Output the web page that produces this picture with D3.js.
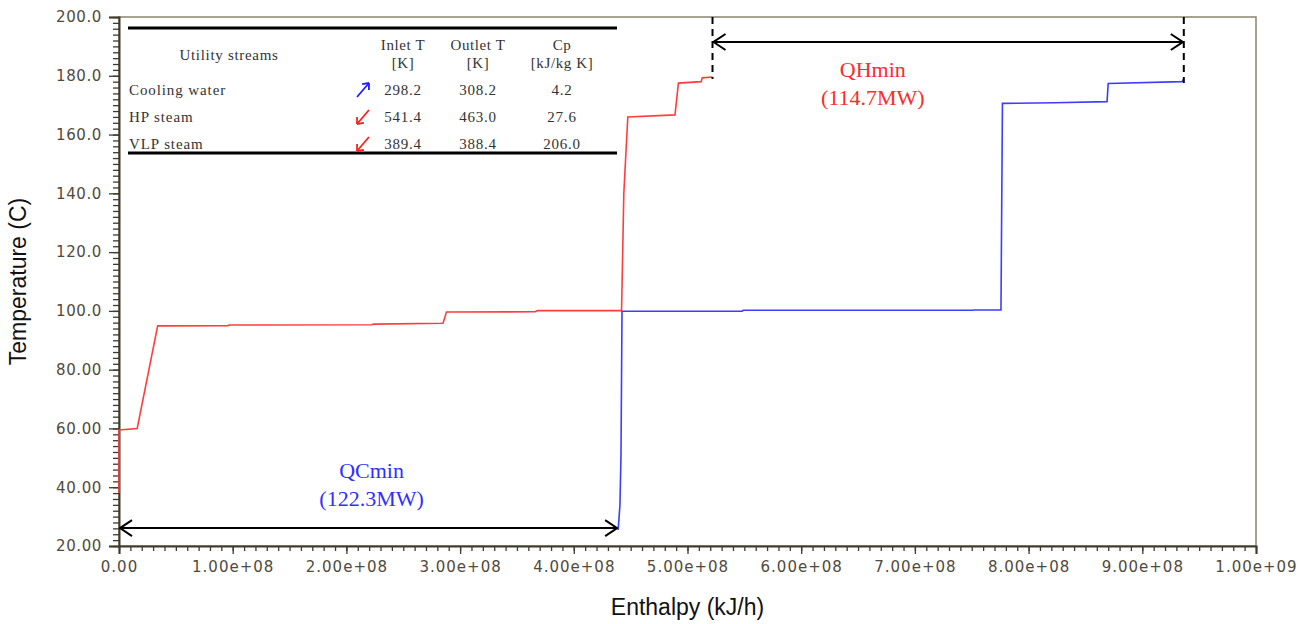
<!DOCTYPE html>
<html>
<head>
<meta charset="utf-8">
<script src="https://cdn.jsdelivr.net/npm/d3@7"></script>
<style>
  html, body { margin: 0; padding: 0; background: #fff; }
  svg { display: block; }
</style>
</head>
<body>
<svg id="chart"></svg>
<script>
// hot composite curve (enthalpy kJ/h, temperature C)
const hotH = [0, 0, 0.16e8, 0.34e8, 0.96e8, 0.97e8, 2.22e8, 2.24e8, 2.85e8, 2.88e8, 3.66e8, 3.68e8,
  4.42e8, 4.44e8, 4.475e8, 4.89e8, 4.92e8, 5.12e8, 5.13e8, 5.22e8];
const hotT = [38, 59.5, 60, 94.9, 95.0, 95.2, 95.3, 95.5, 95.8, 99.6, 99.7, 100.1,
  100.1, 140, 166.0, 166.7, 177.5, 178.0, 179.3, 179.6];

// cold composite curve
const coldH = [4.39e8, 4.406e8, 4.415e8, 4.424e8, 5.48e8, 5.49e8, 7.51e8, 7.52e8, 7.757e8, 7.77e8,
  8.23e8, 8.69e8, 8.70e8, 9.35e8, 9.365e8];
const coldT = [25.5, 34, 51, 99.9, 99.9, 100.2, 100.2, 100.3, 100.3, 170.6,
  170.8, 171.2, 177.4, 178.0, 178.9];

const xTicks = [0, 1e8, 2e8, 3e8, 4e8, 5e8, 6e8, 7e8, 8e8, 9e8, 1e9];
const yTicks = [20, 40, 60, 80, 100, 120, 140, 160, 180, 200];

// utility table
const tableHeader = ["Utility  streams", "Inlet T", "Outlet T", "Cp"];
const tableUnits = ["", "[K]", "[K]", "[kJ/kg K]"];
const utilityNames = ["Cooling  water", "HP steam", "VLP steam"];
const utilityInlet = ["298.2", "541.4", "389.4"];
const utilityOutlet = ["308.2", "463.0", "388.4"];
const utilityCp = ["4.2", "27.6", "206.0"];
const utilityDir = ["up", "down", "down"];

const qcMinLabel = ["QCmin", "(122.3MW)"];
const qhMinLabel = ["QHmin", "(114.7MW)"];

const W = 1308, H = 624;
const margin = { left: 119, right: 52, top: 17, bottom: 78 };
const axisColor = "#3f3a2c";
const tickColor = "#4f4a3c";

const svg = d3.select("#chart").attr("width", W).attr("height", H);

const x = d3.scaleLinear().domain([0, 1e9]).range([margin.left, W - margin.right]);
const y = d3.scaleLinear().domain([20, 200]).range([H - margin.bottom, margin.top]);

const fmtX = (v) => {
  if (v === 0) return "0.00";
  let s = v.toExponential(2);
  return s.replace(/e([+-])(\d)$/, "e$10$2");
};
const fmtY = d3.format(".4r");

/*------------------------------------------------------------*/
///////////////////////////// frame ////////////////////////////
/*------------------------------------------------------------*/
svg.append("rect")
  .attr("x", x(0)).attr("y", y(200))
  .attr("width", x(1e9) - x(0)).attr("height", y(20) - y(200))
  .attr("fill", "none").attr("stroke", "#8a8470").attr("stroke-width", 1.5);

// minor ticks
const minorX = d3.range(0, 1e9 + 1, 1e7);
const minorY = d3.range(20, 200.1, 2);

const xAxisG = svg.append("g").attr("transform", "translate(0," + y(20) + ")");
xAxisG.call(d3.axisBottom(x).tickValues(minorX).tickSize(5).tickFormat(""));
xAxisG.call((g) => g.select(".domain").remove());
xAxisG.append("g").call(d3.axisBottom(x).tickValues(xTicks).tickSize(8).tickFormat(fmtX).tickPadding(7));
xAxisG.selectAll("line").attr("stroke", axisColor).attr("stroke-width", 1.3);
xAxisG.selectAll(".domain").attr("stroke", axisColor).attr("stroke-width", 2);
xAxisG.selectAll("text")
  .attr("fill", tickColor)
  .style("font-family", "DejaVu Sans, sans-serif")
  .style("font-size", "15px")
  .style("letter-spacing", "1px");

const yAxisG = svg.append("g").attr("transform", "translate(" + x(0) + ",0)");
yAxisG.call(d3.axisLeft(y).tickValues(minorY).tickSize(6).tickFormat(""));
yAxisG.call((g) => g.select(".domain").remove());
yAxisG.append("g").call(d3.axisLeft(y).tickValues(yTicks).tickSize(10).tickFormat(fmtY).tickPadding(7));
yAxisG.selectAll("line").attr("stroke", axisColor).attr("stroke-width", 1.3);
yAxisG.selectAll(".domain").attr("stroke", axisColor).attr("stroke-width", 2);
yAxisG.selectAll("text")
  .attr("fill", tickColor)
  .style("font-family", "DejaVu Sans, sans-serif")
  .style("font-size", "15px")
  .style("letter-spacing", "0.6px");

// axis titles
svg.append("text")
  .attr("transform", "translate(26," + (y(110)) + ") rotate(-90)")
  .attr("text-anchor", "middle")
  .style("font-family", "Liberation Sans, Arial, sans-serif")
  .style("font-size", "23px")
  .attr("fill", "#111")
  .text("Temperature (C)");

svg.append("text")
  .attr("x", x(5e8)).attr("y", 615)
  .attr("text-anchor", "middle")
  .style("font-family", "Liberation Sans, Arial, sans-serif")
  .style("font-size", "23px")
  .attr("fill", "#111")
  .text("Enthalpy (kJ/h)");

/*------------------------------------------------------------*/
///////////////////////////// curves ////////////////////////////
/*------------------------------------------------------------*/
const line = d3.line().x((d) => x(d[0])).y((d) => y(d[1]));

svg.append("path")
  .datum(d3.zip(hotH, hotT))
  .attr("d", line)
  .attr("fill", "none").attr("stroke", "#ff3d3d").attr("stroke-width", 1.6);

svg.append("path")
  .datum(d3.zip(coldH, coldT))
  .attr("d", line)
  .attr("fill", "none").attr("stroke", "#3d3dff").attr("stroke-width", 1.6);

/*------------------------------------------------------------*/
/////////////////////// QCmin / QHmin arrows ////////////////////
/*------------------------------------------------------------*/
const defs = svg.append("defs");
defs.append("marker")
  .attr("id", "openArrow")
  .attr("viewBox", "0 0 14 18")
  .attr("refX", 13).attr("refY", 9)
  .attr("markerWidth", 14).attr("markerHeight", 18)
  .attr("markerUnits", "userSpaceOnUse")
  .attr("orient", "auto-start-reverse")
  .append("path")
  .attr("d", "M1,1 L13,9 L1,17")
  .attr("fill", "none").attr("stroke", "#000").attr("stroke-width", 2);

const hotEnd = hotH[hotH.length - 1];
const coldEnd = coldH[coldH.length - 1];
const coldStart = coldH[0];

// dashed guides
svg.append("line")
  .attr("x1", x(hotEnd)).attr("x2", x(hotEnd))
  .attr("y1", y(200)).attr("y2", y(hotT[hotT.length - 1]) + 2)
  .attr("stroke", "#000").attr("stroke-width", 2).attr("stroke-dasharray", "7,5");
svg.append("line")
  .attr("x1", x(coldEnd)).attr("x2", x(coldEnd))
  .attr("y1", y(200)).attr("y2", y(coldT[coldT.length - 1]) + 4)
  .attr("stroke", "#000").attr("stroke-width", 2).attr("stroke-dasharray", "7,5");

svg.append("line")
  .attr("x1", x(hotEnd) + 1).attr("x2", x(coldEnd) - 1)
  .attr("y1", y(191.5)).attr("y2", y(191.5))
  .attr("stroke", "#000").attr("stroke-width", 2)
  .attr("marker-start", "url(#openArrow)").attr("marker-end", "url(#openArrow)");

svg.append("line")
  .attr("x1", x(0) + 1).attr("x2", x(coldStart) - 1)
  .attr("y1", y(26.1)).attr("y2", y(26.1))
  .attr("stroke", "#000").attr("stroke-width", 2)
  .attr("marker-start", "url(#openArrow)").attr("marker-end", "url(#openArrow)");

const labelFont = "Liberation Serif, Times New Roman, serif";
svg.append("g").selectAll("text")
  .data(qcMinLabel).enter().append("text")
  .attr("x", x(coldStart / 2) + 3)
  .attr("y", (d, i) => 478 + i * 28)
  .attr("text-anchor", "middle")
  .style("font-family", labelFont).style("font-size", "22px")
  .attr("fill", "#2f2fff")
  .text((d) => d);

svg.append("g").selectAll("text")
  .data(qhMinLabel).enter().append("text")
  .attr("x", x(6.63e8))
  .attr("y", (d, i) => 77 + i * 28)
  .attr("text-anchor", "middle")
  .style("font-family", labelFont).style("font-size", "22px")
  .attr("fill", "#ff2a2a")
  .text((d) => d);

/*------------------------------------------------------------*/
///////////////////////////// table /////////////////////////////
/*------------------------------------------------------------*/
const table = svg.append("g").style("font-family", labelFont).attr("fill", "#333");
const tLeft = 128, tRight = 617;
const colX = [129, 403, 478, 562];
const rowY = [95, 122, 149];
const tSize = "15px";

table.append("line").attr("x1", tLeft).attr("x2", tRight).attr("y1", 28).attr("y2", 28)
  .attr("stroke", "#000").attr("stroke-width", 3);
table.append("line").attr("x1", tLeft).attr("x2", tRight).attr("y1", 153).attr("y2", 153)
  .attr("stroke", "#000").attr("stroke-width", 3);

table.append("text")
  .attr("x", 229).attr("y", 60).attr("text-anchor", "middle")
  .style("font-size", tSize).style("letter-spacing", "0.7px")
  .text(tableHeader[0]);
tableHeader.slice(1).forEach((h, i) => {
  table.append("text")
    .attr("x", colX[i + 1]).attr("y", 50).attr("text-anchor", "middle")
    .style("font-size", tSize).style("letter-spacing", "0.6px")
    .text(h);
  table.append("text")
    .attr("x", colX[i + 1]).attr("y", 68).attr("text-anchor", "middle")
    .style("font-size", tSize).style("letter-spacing", "0.6px")
    .text(tableUnits[i + 1]);
});

utilityNames.forEach((n, i) => {
  table.append("text").attr("x", colX[0]).attr("y", rowY[i])
    .style("font-size", tSize).style("letter-spacing", "0.9px").text(n);
  [utilityInlet[i], utilityOutlet[i], utilityCp[i]].forEach((v, j) => {
    table.append("text").attr("x", colX[j + 1]).attr("y", rowY[i])
      .attr("text-anchor", "middle")
      .style("font-size", tSize).style("letter-spacing", "0.8px").text(v);
  });
});

// small stream arrows in the table
utilityDir.forEach((dir, i) => {
  const c = dir === "up" ? "#1f1fff" : "#ff1f1f";
  const cy = rowY[i] - 5;
  const p = dir === "up"
    ? { x1: 357, y1: cy + 7, x2: 369, y2: cy - 7 }
    : { x1: 369, y1: cy - 7, x2: 357, y2: cy + 7 };
  table.append("line")
    .attr("x1", p.x1).attr("y1", p.y1).attr("x2", p.x2).attr("y2", p.y2)
    .attr("stroke", c).attr("stroke-width", 1.8);
  const ang = Math.atan2(p.y2 - p.y1, p.x2 - p.x1);
  const hl = 7;
  [ang + Math.PI * 0.78, ang - Math.PI * 0.78].forEach((a) => {
    table.append("line")
      .attr("x1", p.x2).attr("y1", p.y2)
      .attr("x2", p.x2 + hl * Math.cos(a)).attr("y2", p.y2 + hl * Math.sin(a))
      .attr("stroke", c).attr("stroke-width", 1.8);
  });
});
</script>
</body>
</html>
